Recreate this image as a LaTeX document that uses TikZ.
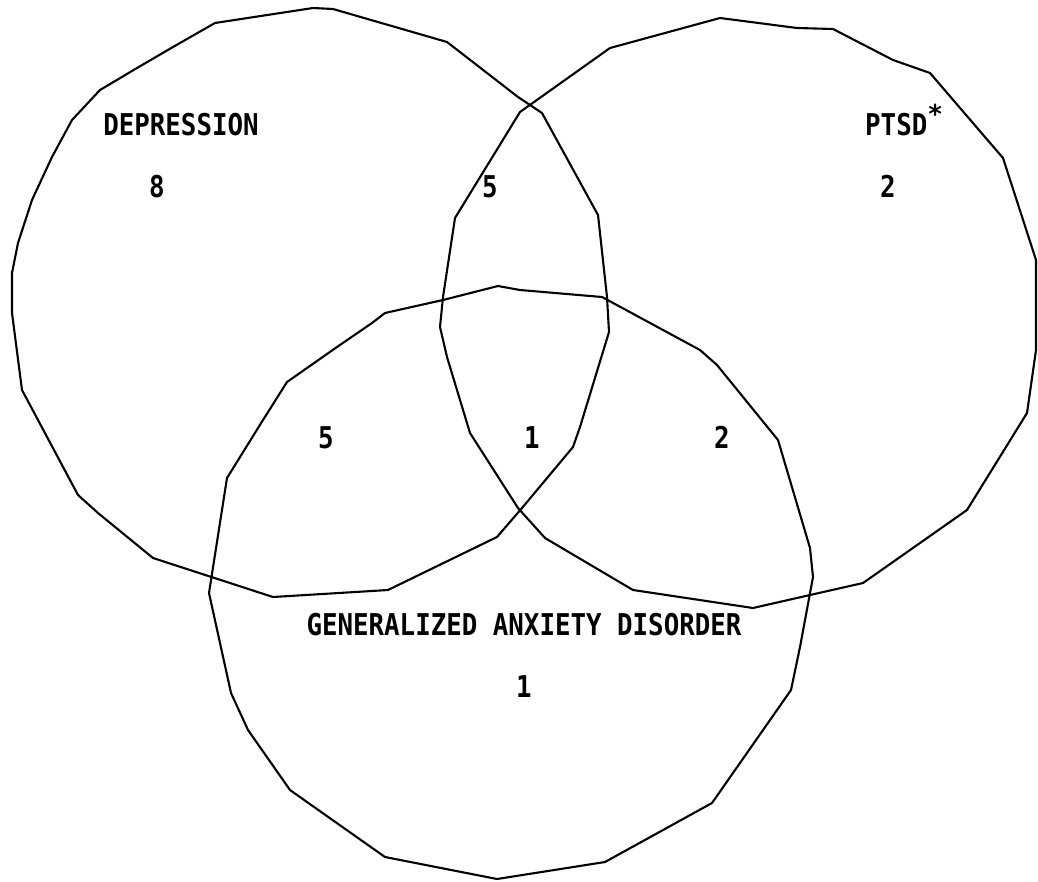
\documentclass[tikz,border=0pt]{standalone}
\usepackage{fontspec}
\newfontfamily\vennfont{DejaVu Sans Mono}
\begin{document}
\begin{tikzpicture}[x=1pt,y=-1pt,
  ring/.style={draw=black,line width=2.1pt,line join=round},
  lbl/.style={inner sep=0pt,anchor=base,font=\vennfont\bfseries\fontsize{30}{36}\selectfont}]
\useasboundingbox (0,0) rectangle (1038,881);
% Depression
\draw[ring] (215,23) -- (313,8) -- (333,9) -- (447,42) -- (518,97) -- (542,113)
  -- (598,215) -- (607,297) -- (609,332) -- (580,427) -- (573,447) -- (522,508)
  -- (497,537) -- (388,590) -- (273,597) -- (153,558) -- (98,513) -- (78,495)
  -- (22,390) -- (12,313) -- (12,273) -- (18,243) -- (32,200) -- (52,157)
  -- (72,120) -- (100,90) -- (137,68) -- (173,47) -- cycle;
% PTSD
\draw[ring] (520,112) -- (610,48) -- (720,18) -- (797,28) -- (833,29) -- (893,60)
  -- (930,73) -- (1003,158) -- (1036,260) -- (1036,350) -- (1027,413) -- (967,510)
  -- (863,583) -- (810,595) -- (753,608) -- (633,590) -- (545,538) -- (518,508)
  -- (470,433) -- (447,357) -- (440,327) -- (443,297) -- (455,218) -- cycle;
% Generalized anxiety disorder
\draw[ring] (498,286) -- (520,290) -- (602,297) -- (700,350) -- (717,365)
  -- (778,440) -- (810,548) -- (813,577) -- (800,647) -- (791,690) -- (712,803)
  -- (605,862) -- (497,879) -- (385,857) -- (290,790) -- (248,730) -- (231,693)
  -- (209,593) -- (227,478) -- (263,420) -- (287,382) -- (337,347) -- (372,323)
  -- (385,313) -- (443,300) -- cycle;
% labels
\node[lbl] (tdep) at (181,135) {\scalebox{0.86}[1]{DEPRESSION}};
\node[lbl] (ndep) at (157,197) {\scalebox{0.86}[1]{8}};
\node[lbl,anchor=base west] (tptsd) at (865,135) {\scalebox{0.86}[1]{PTSD}\raisebox{12pt}{\fontsize{26}{26}\selectfont *}};
\node[lbl] (nptsd) at (888,197) {\scalebox{0.86}[1]{2}};
\node[lbl] (ndp) at (490,197) {\scalebox{0.86}[1]{5}};
\node[lbl] (ndg) at (326,448) {\scalebox{0.86}[1]{5}};
\node[lbl] (nall) at (532,448) {\scalebox{0.86}[1]{1}};
\node[lbl] (npg) at (722,448) {\scalebox{0.86}[1]{2}};
\node[lbl] (tgad) at (524,635) {\scalebox{0.86}[1]{GENERALIZED ANXIETY DISORDER}};
\node[lbl] (ngad) at (524,697) {\scalebox{0.86}[1]{1}};
\end{tikzpicture}
\end{document}
